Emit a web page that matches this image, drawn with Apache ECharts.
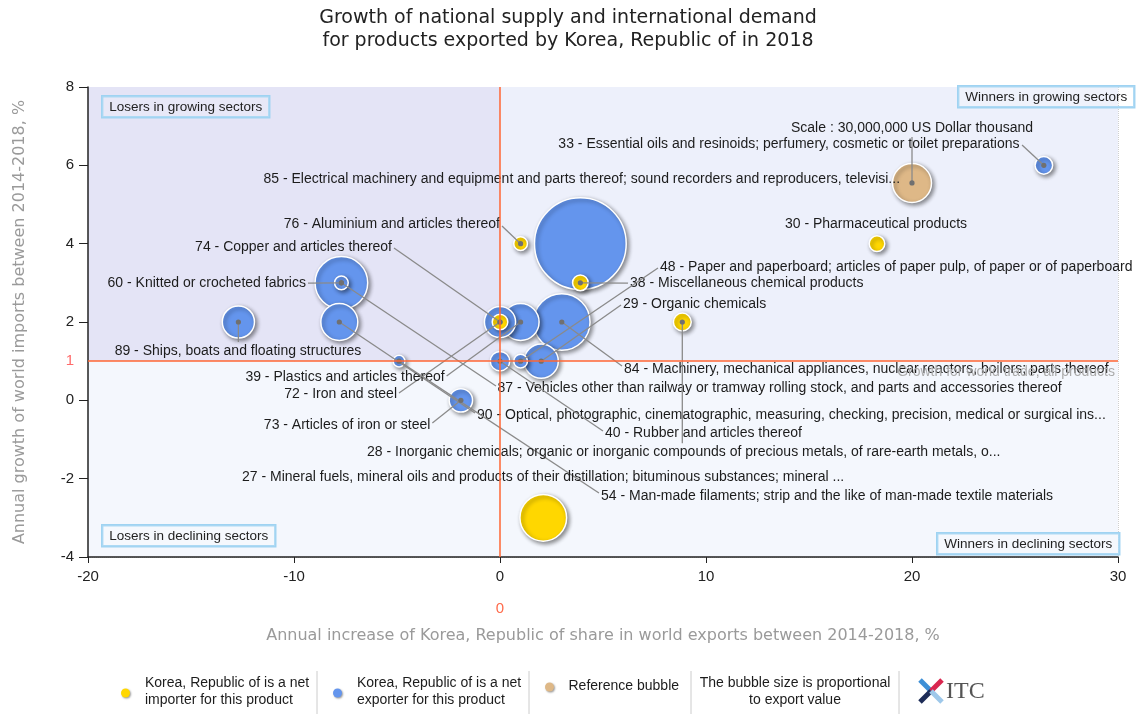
<!DOCTYPE html>
<html>
<head>
<meta charset="utf-8">
<script src="https://cdn.jsdelivr.net/npm/echarts@6/dist/echarts.min.js"></script>
<style>
html,body{margin:0;padding:0;background:#ffffff;}
#chart{width:1136px;height:716px;}
</style>
</head>
<body>
<div id="chart"></div>
<script>
// ---------------- DATA ----------------
const codes = ['85','33','30','76','38','87','60','89','90','72','74','39','84','40','48','29','54','73','27','28'];
const names = [
  '85 - Electrical machinery and equipment and parts thereof; sound recorders and reproducers, televisi...',
  '33 - Essential oils and resinoids; perfumery, cosmetic or toilet preparations',
  '30 - Pharmaceutical products',
  '76 - Aluminium and articles thereof',
  '38 - Miscellaneous chemical products',
  '87 - Vehicles other than railway or tramway rolling stock, and parts and accessories thereof',
  '60 - Knitted or crocheted fabrics',
  '89 - Ships, boats and floating structures',
  '90 - Optical, photographic, cinematographic, measuring, checking, precision, medical or surgical ins...',
  '72 - Iron and steel',
  '74 - Copper and articles thereof',
  '39 - Plastics and articles thereof',
  '84 - Machinery, mechanical appliances, nuclear reactors, boilers; parts thereof',
  '40 - Rubber and articles thereof',
  '48 - Paper and paperboard; articles of paper pulp, of paper or of paperboard',
  '29 - Organic chemicals',
  '54 - Man-made filaments; strip and the like of man-made textile materials',
  '73 - Articles of iron or steel',
  '27 - Mineral fuels, mineral oils and products of their distillation; bituminous substances; mineral ...',
  '28 - Inorganic chemicals; organic or inorganic compounds of precious metals, of rare-earth metals, o...'
];
// annual increase of Korea's share in world exports 2014-2018, %
const shareGrowth  = [3.9, 26.4, 18.3, 1.0, 3.9, -7.7, -7.7, -12.7, -7.8, 0.0, 0.0, 1.0, 3.0, 0.0, 1.0, 2.0, -4.9, -1.9, 2.1, 8.85];
// annual growth of world imports 2014-2018, %
const importGrowth = [4, 6, 4, 4, 3, 3, 3, 2, 2, 2, 2, 2, 2, 1, 1, 1, 1, 0, -3, 2];
// export value, US Dollar thousand
const exportValue  = [166e6, 6.1e6, 4.8e6, 3.7e6, 4.8e6, 54.7e6, 3.7e6, 20.4e6, 27e6, 19.2e6, 4.8e6, 27e6, 63e6, 7.5e6, 3.7e6, 23e6, 2.7e6, 10.8e6, 43e6, 6.3e6];
// true = Korea is a net importer of the product
const netImporter  = [false,false,true,true,true,false,false,false,false,false,true,false,false,false,false,false,false,false,true,true];

const refBubble = {x: 20, y: 5.55, value: 30e6, label: 'Scale : 30,000,000 US Dollar thousand'};
const worldGrowth = 1;      // growth of world trade, all products
const shareRef = 0;         // reference for share change
const xTicks = [-20, -10, 0, 10, 20, 30];
const yTicks = [-4, -2, 0, 2, 4, 6, 8];

// ---------------- LAYOUT (label placement, pixels relative to bubble centre) ----------------
const LBL = {
  'ref': {t:[0,-54.7],   a:'center', l:[0,-46]},
  '33':  {t:[-24.3,-20.8], a:'right', l:[-21.8,-20.3]},
  '85':  {t:[319.7,-64.7], a:'right', l:null},
  '30':  {t:[-1,-19.7],  a:'center', l:null},
  '76':  {t:[-20.6,-19.4], a:'right', l:[-18.6,-17.7]},
  '74':  {t:[-108,-75.3], a:'right', l:[-106,-74]},
  '60':  {t:[-35.4,0.5], a:'right', l:[-33.4,0.2]},
  '89':  {t:[-0.4,29],   a:'center', l:[0,20]},
  '39':  {t:[-76,54.7],  a:'right', l:[-74,54]},
  '72':  {t:[-103,72.3], a:'right', l:[-101,71]},
  '73':  {t:[-30.5,24.7], a:'right', l:[-28.5,22.7]},
  '28':  {t:[-315.3,130], a:'left', l:[0,121.3]},
  '27':  {t:[-301.3,-40.8], a:'left', l:null},
  '54':  {t:[201.9,134.8], a:'left', l:[199.9,131.8]},
  '48':  {t:[139.4,-93.7], a:'left', l:[137.4,-93.2]},
  '38':  {t:[49.7,0.2],  a:'left', l:[47.7,0.2]},
  '29':  {t:[81.8,-57.2], a:'left', l:[79.8,-56.2]},
  '84':  {t:[62.2,47],   a:'left', l:[60.2,44]},
  '87':  {t:[156.1,105.7], a:'left', l:[154.6,103.2]},
  '90':  {t:[137.7,93.5], a:'left', l:[135.7,91]},
  '40':  {t:[105,72.3],  a:'left', l:[103,69.8]}
};

const COLORS = {importer:'#FFD700', exporter:'#6495ED', ref:'#DEB887'};
const REF_DIAMETER = 39; // pixel diameter of the reference bubble
const FONT = 'Liberation Sans';

function sizeOf(v){ return REF_DIAMETER * Math.sqrt(v / refBubble.value); }

// ---------------- BUILD ----------------
const idx = codes.map((c,i)=>i).sort((a,b)=>exportValue[b]-exportValue[a]);
const exporterData = idx.filter(i=>!netImporter[i]).map(i=>[shareGrowth[i], importGrowth[i], exportValue[i]]);
const importerData = idx.filter(i=>netImporter[i]).map(i=>[shareGrowth[i], importGrowth[i], exportValue[i]]);
const labelKeys = codes.concat(['ref']);
const labelTexts = names.concat([refBubble.label]);
const labelData = codes.map((c,i)=>[shareGrowth[i], importGrowth[i], i]).concat([[refBubble.x, refBubble.y, codes.length]]);

const bubbleStyle = (color)=>({
  color: color, opacity: 1, borderColor: '#ffffff', borderWidth: 1.5,
  shadowBlur: 4, shadowColor: 'rgba(0,0,0,0.45)', shadowOffsetX: 2, shadowOffsetY: 2
});

function renderLabel(params, api){
  const k = api.value(2);
  const key = labelKeys[k];
  const L = LBL[key];
  const c = api.coord([api.value(0), api.value(1)]);
  const children = [];
  if (L.l){
    children.push({type:'line', shape:{x1:c[0], y1:c[1], x2:c[0]+L.l[0], y2:c[1]+L.l[1]},
      style:{stroke:'#8a8a8a', lineWidth:1.3}});
    children.push({type:'circle', shape:{cx:c[0], cy:c[1], r:2.6}, style:{fill:'#707070'}});
  }
  children.push({type:'text', style:{x:c[0]+L.t[0], y:c[1]+L.t[1], text:labelTexts[k], align:L.a,
    verticalAlign:'middle', fontSize:14, fontFamily:FONT, fill:'#1c1c1c'}});
  return {type:'group', children: children};
}

const xMin = xTicks[0], xMax = xTicks[xTicks.length-1], xStep = xTicks[1]-xTicks[0];
const yMin = yTicks[0], yMax = yTicks[yTicks.length-1], yStep = yTicks[1]-yTicks[0];

const quadBox = (txt, pos)=>Object.assign({type:'text', z:50, style:{text:txt, fontSize:13.5, fontFamily:FONT, fill:'#222',
  backgroundColor:'rgba(255,255,255,0.15)', borderColor:'#9fd3f2', borderWidth:1.2, padding:[4,7,3,7]}}, pos);

const legendText = (x, y, txt, align)=>({type:'text', style:{x:x, y:y, text:txt, fontSize:14, fontFamily:FONT, fill:'#1c1c1c',
  align: align||'left', verticalAlign:'middle', lineHeight:17}});
const legendDot = (x, y, color)=>({type:'circle', shape:{cx:x, cy:y, r:4.5}, style:{fill:color, shadowBlur:2, shadowColor:'rgba(0,0,0,0.4)', shadowOffsetX:1, shadowOffsetY:1}});
const sep = (x)=>({type:'line', shape:{x1:x, y1:671, x2:x, y2:714}, style:{stroke:'#cccccc', lineWidth:1}});

const option = {
  animation: false,
  backgroundColor: '#ffffff',
  title: {
    text: 'Growth of national supply and international demand\nfor products exported by Korea, Republic of in 2018',
    left: 'center', top: 2,
    textStyle: {fontFamily:'DejaVu Sans', fontSize:19, fontWeight:'normal', color:'#222', lineHeight:23}
  },
  grid: {left: 88, right: 18, top: 87, bottom: 159},
  xAxis: {
    type:'value', min:xMin, max:xMax, interval:xStep, z:1,
    name: 'Annual increase of Korea, Republic of share in world exports between 2014-2018, %',
    nameLocation:'middle', nameGap:71,
    nameTextStyle:{fontFamily:'DejaVu Sans', fontSize:16, color:'#9a9a9a'},
    axisLine:{show:true, onZero:false, lineStyle:{color:'#222', width:1.5}},
    axisTick:{show:true, length:6, lineStyle:{color:'#222'}},
    axisLabel:{fontSize:15, fontFamily:FONT, color:'#222', margin:12},
    splitLine:{show:true, lineStyle:{color:'#cfcfcf', type:'dotted', width:1}}
  },
  yAxis: {
    type:'value', min:yMin, max:yMax, interval:yStep, z:1,
    name: 'Annual growth of world imports between 2014-2018, %',
    nameLocation:'middle', nameGap:60,
    nameTextStyle:{fontFamily:'DejaVu Sans', fontSize:16, color:'#9a9a9a'},
    axisLine:{show:true, onZero:false, lineStyle:{color:'#222', width:1.5}},
    axisTick:{show:true, length:9, lineStyle:{color:'#222'}},
    axisLabel:{fontSize:15, fontFamily:FONT, color:'#222', margin:14},
    splitLine:{show:true, lineStyle:{color:'#cfcfcf', type:'dotted', width:1}}
  },
  series: [
    {
      type:'line', data:[], z:0, silent:true,
      markArea:{silent:true, data:[
        [{xAxis:xMin, yAxis:worldGrowth, itemStyle:{color:'#e4e4f6'}}, {xAxis:shareRef, yAxis:yMax}],
        [{xAxis:shareRef, yAxis:worldGrowth, itemStyle:{color:'#edf0fb'}}, {xAxis:xMax, yAxis:yMax}],
        [{xAxis:xMin, yAxis:yMin, itemStyle:{color:'#f4f7fd'}}, {xAxis:xMax, yAxis:worldGrowth}]
      ]}
    },
    {
      type:'line', data:[], z:1, silent:true,
      markLine:{silent:true, symbol:'none', animation:false,
        lineStyle:{color:'#ff6633', width:1.5, type:'solid'},
        data:[
          {yAxis:worldGrowth, lineStyle:{color:'rgba(0,0,0,0)', width:0}, label:{formatter:'Growth for world trade, all products', position:'insideEndBottom', distance:[3,4], color:'#ababab', fontSize:14, fontFamily:FONT}},
          {xAxis:shareRef, label:{formatter:String(shareRef), position:'start', distance:44, color:'#ff6a4a', fontSize:15, fontFamily:FONT}},
          {yAxis:worldGrowth, label:{formatter:String(worldGrowth), position:'start', distance:14, color:'#ff6a6a', fontSize:15, fontFamily:FONT}}
        ]}
    },
    {
      type:'scatter', name:'exporter', z:2, silent:true,
      data: exporterData, symbolSize: d=>sizeOf(d[2]), itemStyle: bubbleStyle(COLORS.exporter)
    },
    {
      type:'scatter', name:'importer', z:2, silent:true,
      data: importerData, symbolSize: d=>sizeOf(d[2]), itemStyle: bubbleStyle(COLORS.importer)
    },
    {
      type:'scatter', name:'reference', z:2, silent:true,
      data: [[refBubble.x, refBubble.y, refBubble.value]], symbolSize: d=>sizeOf(d[2]), itemStyle: bubbleStyle(COLORS.ref)
    },
    {
      type:'custom', z:3, silent:true, clip:false,
      encode:{x:0, y:1},
      data: labelData,
      renderItem: renderLabel
    }
  ],
  graphic: [
    quadBox('Losers in growing sectors', {left:101, top:95}),
    quadBox('Winners in growing sectors', {left:957, top:85}),
    quadBox('Losers in declining sectors', {left:101, top:524}),
    quadBox('Winners in declining sectors', {left:936, top:532}),
    legendDot(125.5, 693, COLORS.importer),
    legendText(145, 692, 'Korea, Republic of is a net\nimporter for this product'),
    sep(317),
    legendDot(337.5, 693, COLORS.exporter),
    legendText(357, 692, 'Korea, Republic of is a net\nexporter for this product'),
    sep(529),
    legendDot(549.5, 687, COLORS.ref),
    legendText(568.5, 686, 'Reference bubble'),
    sep(691),
    legendText(795, 692, 'The bubble size is proportional\nto export value', 'center'),
    sep(899),
    {type:'group', x:931, y:691, children:[
      {type:'line', shape:{x1:-11, y1:-11, x2:0, y2:0}, style:{stroke:'#3d8fd6', lineWidth:5}},
      {type:'line', shape:{x1:11, y1:-11, x2:0, y2:0}, style:{stroke:'#d9264f', lineWidth:5}},
      {type:'line', shape:{x1:-11, y1:11, x2:0, y2:0}, style:{stroke:'#1d2c57', lineWidth:5}},
      {type:'line', shape:{x1:11, y1:11, x2:0, y2:0}, style:{stroke:'#9ec8ea', lineWidth:5}}
    ]},
    {type:'text', style:{x:946, y:692, text:'ITC', fontSize:24, fontFamily:'Liberation Serif', fill:'#555', verticalAlign:'middle'}}
  ]
};

const chart = echarts.init(document.getElementById('chart'));
chart.setOption(option);
</script>
</body>
</html>
